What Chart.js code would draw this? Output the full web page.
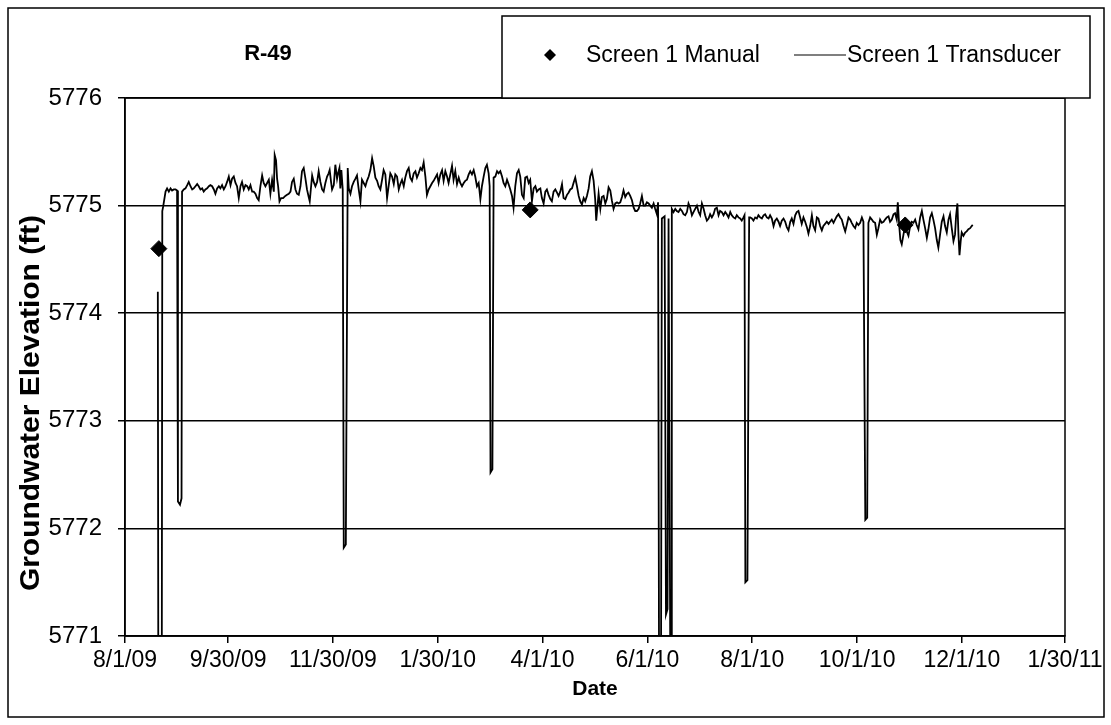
<!DOCTYPE html>
<html><head><meta charset="utf-8">
<script src="https://cdn.jsdelivr.net/npm/chart.js@4/dist/chart.umd.min.js"></script>
<style>html,body{margin:0;padding:0;background:#fff;}#wrap{width:1111px;height:725px;}</style>
</head><body><div id="wrap"><canvas id="c" width="1111" height="725"></canvas></div>
<script>
// x values are days since 8/1/09
const xTickDays = [0, 60, 121, 182, 243, 304, 365, 426, 487, 547];
const xTickLabels = ['8/1/09','9/30/09','11/30/09','1/30/10','4/1/10','6/1/10','8/1/10','10/1/10','12/1/10','1/30/11'];
const yTicks = [5771, 5772, 5773, 5774, 5775, 5776];

const manualDays = [19.7, 235.8, 454.0];
const manualVals = [5774.60, 5774.96, 5774.82];

const transDays = [19.1,19.4,21.4,21.7,22.2,23.6,24.5,25.5,26.5,27.4,28.4,29.4,30.3,30.8,32.0,32.9,33.2,34.2,35.2,36.2,37.1,38.1,39.1,40.0,41.0,42.0,42.9,43.9,44.9,45.8,46.8,47.8,48.8,49.7,50.7,51.7,52.6,53.6,54.6,55.5,56.5,57.5,58.5,59.4,60.4,61.4,62.3,63.3,64.3,65.2,66.2,67.2,68.1,69.1,70.1,71.1,72.0,73.0,74.0,74.9,75.9,76.9,77.8,78.8,79.8,80.7,81.7,82.7,83.7,84.6,85.6,86.6,87.1,87.9,88.5,89.1,89.9,90.8,92.0,93.3,94.3,95.3,96.3,97.2,98.2,99.2,100.1,101.1,102.1,103.0,104.0,105.0,105.9,106.9,107.5,108.3,108.9,109.8,110.8,111.8,112.7,113.7,114.7,115.6,116.6,117.6,118.5,119.1,119.9,120.5,121.5,122.4,123.4,124.0,124.8,125.3,125.9,126.7,127.3,128.5,129.6,130.2,131.2,132.1,133.1,134.1,135.0,136.0,137.0,
137.9,138.9,139.9,140.8,141.8,142.8,143.8,144.7,145.7,146.7,147.6,148.6,149.6,150.5,151.5,152.5,153.4,154.4,155.4,156.4,157.3,158.3,159.3,160.2,161.2,162.2,163.1,164.1,165.1,166.0,167.0,168.0,169.0,169.9,170.9,171.9,172.8,173.8,174.8,175.7,176.7,177.7,178.7,179.6,180.6,181.6,182.5,183.5,184.5,185.4,186.4,187.4,188.3,189.3,190.3,191.2,192.2,193.2,194.2,195.1,196.1,197.1,198.0,199.0,200.0,200.9,201.9,202.9,203.8,204.8,205.8,206.8,207.7,208.7,209.7,210.6,211.6,212.2,212.7,213.8,214.5,215.5,216.5,217.4,218.4,219.4,220.3,221.3,222.3,223.2,224.2,225.2,226.1,227.1,228.1,229.1,230.0,231.0,232.0,232.9,233.9,234.9,235.8,236.8,237.8,238.8,239.7,240.7,241.7,242.6,243.6,244.6,245.5,246.5,247.5,248.4,249.4,250.4,251.4,252.3,253.3,254.3,255.2,256.2,257.2,258.1,259.1,260.1,261.0,262.0,263.0,264.0,264.9,265.9,266.9,267.8,268.8,269.8,270.7,271.7,272.7,273.6,
274.2,275.6,276.6,277.5,278.5,279.5,280.4,281.4,282.4,283.3,284.3,285.3,286.3,287.2,288.2,289.2,290.1,291.1,292.1,293.0,294.0,295.0,296.0,296.9,297.9,298.9,299.8,300.8,301.8,302.7,303.7,304.7,305.6,306.6,307.6,308.5,309.5,310.2,310.8,311.9,312.4,314.0,314.8,315.7,316.3,317.3,318.0,318.2,319.2,320.2,321.1,322.1,323.1,324.1,325.0,326.0,327.0,327.9,328.9,329.9,330.8,331.8,332.8,333.8,334.7,335.7,336.7,337.6,338.6,339.6,340.5,341.5,342.5,343.4,344.4,345.4,346.3,347.3,348.3,349.3,350.2,351.2,352.2,353.1,354.1,355.1,356.0,357.0,358.0,358.9,359.9,360.5,361.0,362.2,363.2,363.8,364.8,365.7,366.7,367.7,368.6,369.6,370.6,371.6,372.5,373.5,374.5,375.4,376.4,377.4,378.3,379.3,380.3,381.2,382.2,383.2,384.2,385.1,386.1,387.1,388.0,389.0,390.0,390.9,391.9,392.9,393.8,394.8,395.8,396.8,397.7,398.7,399.7,400.6,401.6,402.6,403.5,404.5,405.5,406.4,407.4,408.4,409.4,
410.3,411.3,412.3,413.2,414.2,415.2,416.2,417.1,418.1,419.1,420.0,421.0,422.0,422.9,423.9,424.9,425.8,426.8,427.8,428.8,429.7,430.8,431.9,432.6,433.6,434.6,435.5,436.5,437.5,438.4,439.4,440.4,441.4,442.3,443.3,444.3,445.2,446.2,447.2,448.1,449.1,449.7,450.5,451.2,452.0,453.0,453.9,454.9,455.9,456.9,457.8,458.8,459.8,460.7,461.7,462.7,463.7,464.6,465.6,466.6,467.5,468.5,469.5,470.4,471.4,472.4,473.3,474.3,475.3,476.3,477.2,478.2,479.2,480.1,481.1,482.1,483.0,483.6,484.4,485.0,485.6,486.3,486.9,487.9,488.9,489.8,490.8,491.8,492.7,493.3];

const transVals = [5774.20,5770.50,5770.50,5774.95,5774.99,5775.13,5775.16,5775.13,5775.16,5775.14,5775.15,5775.15,5775.14,5772.25,5772.22,5772.28,5775.13,5775.15,5775.16,5775.19,5775.22,5775.18,5775.15,5775.16,5775.18,5775.20,5775.18,5775.15,5775.16,5775.13,5775.15,5775.16,5775.18,5775.19,5775.18,5775.15,5775.11,5775.16,5775.18,5775.16,5775.19,5775.15,5775.18,5775.22,5775.27,5775.19,5775.25,5775.27,5775.21,5775.18,5775.07,5775.18,5775.22,5775.15,5775.19,5775.18,5775.15,5775.19,5775.13,5775.13,5775.11,5775.07,5775.05,5775.18,5775.28,5775.21,5775.18,5775.21,5775.24,5775.11,5775.24,5775.13,5775.47,5775.42,5775.25,5775.18,5775.04,5775.07,5775.07,5775.09,5775.10,5775.11,5775.13,5775.22,5775.25,5775.15,5775.11,5775.10,5775.18,5775.32,5775.35,5775.25,5775.15,5775.08,5775.04,5775.18,5775.28,5775.22,5775.18,5775.22,5775.32,5775.22,5775.15,5775.13,5775.21,5775.27,5775.30,5775.33,5775.22,5775.15,5775.19,5775.38,5775.25,5775.30,5775.35,5775.16,5775.33,5775.15,5771.82,5771.85,5775.35,5775.16,5775.11,5775.18,5775.22,5775.25,5775.28,5775.15,5775.04,
5775.24,5775.21,5775.18,5775.23,5775.27,5775.33,5775.44,5775.37,5775.26,5775.23,5775.18,5775.15,5775.24,5775.33,5775.29,5775.07,5775.18,5775.30,5775.27,5775.20,5775.29,5775.27,5775.15,5775.20,5775.24,5775.18,5775.26,5775.32,5775.35,5775.26,5775.23,5775.30,5775.32,5775.26,5775.30,5775.35,5775.33,5775.40,5775.27,5775.10,5775.15,5775.18,5775.21,5775.23,5775.26,5775.29,5775.21,5775.29,5775.33,5775.23,5775.32,5775.27,5775.21,5775.29,5775.37,5775.24,5775.32,5775.20,5775.26,5775.21,5775.18,5775.21,5775.23,5775.24,5775.29,5775.32,5775.29,5775.33,5775.27,5775.18,5775.21,5775.06,5775.18,5775.27,5775.35,5775.38,5775.30,5775.18,5772.52,5772.55,5775.26,5775.27,5775.32,5775.30,5775.32,5775.27,5775.21,5775.18,5775.24,5775.20,5775.15,5775.09,5774.98,5775.18,5775.30,5775.33,5775.27,5775.10,5775.07,5775.26,5775.27,5775.21,5775.24,5775.04,5775.16,5775.18,5775.13,5775.15,5775.16,5775.07,5775.02,5775.13,5775.15,5775.10,5775.06,5775.04,5775.13,5775.15,5775.12,5775.09,5775.13,5775.20,5775.07,5775.06,5775.10,5775.12,5775.15,5775.16,5775.21,5775.26,5775.18,5775.09,5775.04,5775.01,5775.07,5775.04,5775.09,5775.16,5775.27,5775.32,5775.23,5775.06,
5774.86,5775.11,5774.97,5775.08,5775.09,5775.02,5775.06,5775.17,5775.14,5775.05,5774.97,5775.02,5775.03,5775.02,5775.03,5775.08,5775.14,5775.08,5775.11,5775.12,5775.09,5775.05,5774.98,5774.95,5774.95,5774.97,5775.02,5775.09,5775.00,5775.00,5775.03,5775.02,5775.00,5774.98,5775.02,5774.97,5774.92,5775.03,5770.50,5770.50,5774.88,5774.90,5771.20,5771.25,5774.88,5770.80,5770.80,5774.97,5774.94,5774.97,5774.95,5774.94,5774.97,5774.95,5774.92,5774.91,5774.94,5775.02,5774.98,5774.91,5774.94,5774.97,5775.00,5774.94,5774.91,5775.02,5774.97,5774.91,5774.86,5774.88,5774.92,5774.89,5774.92,5774.97,5774.98,5774.91,5774.95,5774.94,5774.91,5774.94,5774.92,5774.89,5774.94,5774.91,5774.89,5774.88,5774.91,5774.89,5774.88,5774.86,5774.89,5774.91,5771.50,5771.52,5774.89,5774.89,5774.88,5774.86,5774.89,5774.88,5774.91,5774.89,5774.88,5774.91,5774.92,5774.89,5774.88,5774.91,5774.88,5774.81,5774.86,5774.88,5774.85,5774.81,5774.86,5774.88,5774.85,5774.80,5774.77,5774.85,5774.88,5774.83,5774.91,5774.94,5774.95,5774.89,5774.83,5774.89,5774.85,5774.80,5774.74,5774.81,5774.91,5774.81,5774.77,5774.89,5774.88,5774.81,5774.77,5774.81,5774.83,5774.85,5774.83,
5774.85,5774.87,5774.84,5774.87,5774.90,5774.92,5774.89,5774.87,5774.81,5774.76,5774.82,5774.89,5774.87,5774.84,5774.81,5774.79,5774.84,5774.82,5774.84,5774.89,5774.85,5772.08,5772.10,5774.84,5774.89,5774.87,5774.85,5774.84,5774.73,5774.79,5774.87,5774.84,5774.85,5774.87,5774.89,5774.90,5774.85,5774.87,5774.92,5774.93,5774.87,5775.03,5774.82,5774.68,5774.64,5774.73,5774.81,5774.76,5774.72,5774.81,5774.85,5774.84,5774.87,5774.82,5774.78,5774.89,5774.95,5774.87,5774.79,5774.70,5774.78,5774.89,5774.93,5774.87,5774.79,5774.68,5774.61,5774.73,5774.85,5774.90,5774.81,5774.75,5774.87,5774.92,5774.79,5774.67,5774.73,5774.90,5775.02,5774.73,5774.54,5774.67,5774.75,5774.72,5774.75,5774.76,5774.78,5774.79,5774.81,5774.82];

const FONT = '"Liberation Sans", Arial, sans-serif';

const framePlugin = {
  id: 'frame',
  afterDraw(chart) {
    const ctx = chart.ctx, a = chart.chartArea;
    ctx.save();
    ctx.strokeStyle = '#000';
    ctx.lineWidth = 1.5;
    ctx.strokeRect(8, 8, 1096, 709);
    ctx.strokeRect(a.left, a.top, a.right - a.left, a.bottom - a.top);
    ctx.fillStyle = '#000';
    ctx.textBaseline = 'middle';
    // chart title
    ctx.font = 'bold 22px ' + FONT;
    ctx.textAlign = 'center';
    ctx.fillText('R-49', 268, 54);
    // y axis title
    ctx.save();
    ctx.translate(31, 403);
    ctx.rotate(-Math.PI / 2);
    ctx.scale(1.07, 1);
    ctx.font = 'bold 28px ' + FONT;
    ctx.fillText('Groundwater Elevation (ft)', 0, 0);
    ctx.restore();
    // legend box
    ctx.fillStyle = '#fff';
    ctx.fillRect(502, 16, 588, 82);
    ctx.strokeRect(502, 16, 588, 82);
    ctx.fillStyle = '#000';
    ctx.beginPath();
    ctx.moveTo(550, 49); ctx.lineTo(556, 55); ctx.lineTo(550, 61); ctx.lineTo(544, 55); ctx.closePath();
    ctx.fill();
    ctx.font = '23px ' + FONT;
    ctx.textAlign = 'left';
    ctx.fillText('Screen 1 Manual', 586, 56);
    ctx.beginPath(); ctx.moveTo(794, 55); ctx.lineTo(846, 55); ctx.lineWidth = 1.2; ctx.stroke();
    ctx.fillText('Screen 1 Transducer', 847, 56);
    ctx.restore();
  }
};

new Chart(document.getElementById('c'), {
  type: 'line',
  data: {
    datasets: [
      {
        label: 'Screen 1 Manual',
        data: manualDays.map((d, i) => ({x: d, y: manualVals[i]})),
        showLine: false,
        pointStyle: 'rectRot',
        pointRadius: 8,
        pointBackgroundColor: '#000',
        pointBorderColor: '#000',
        borderColor: '#000',
        order: 0
      },
      {
        label: 'Screen 1 Transducer',
        data: transDays.map((d, i) => ({x: d, y: transVals[i]})),
        borderColor: '#000',
        borderWidth: 1.8,
        pointRadius: 0,
        tension: 0,
        fill: false,
        order: 1
      }
    ]
  },
  options: {
    responsive: false,
    animation: false,
    devicePixelRatio: 1,
    layout: { padding: { top: 98, left: 0, right: 46, bottom: 0 } },
    plugins: { legend: { display: false }, tooltip: { enabled: false } },
    scales: {
      x: {
        type: 'linear', min: 0, max: 547,
        afterBuildTicks: (s) => { s.ticks = xTickDays.map(v => ({ value: v })); },
        afterFit: (s) => { s.height = 89; },
        ticks: {
          autoSkip: false, maxRotation: 0, color: '#000', padding: 4,
          font: { family: FONT, size: 23 },
          callback: (v) => { const i = xTickDays.indexOf(v); return i >= 0 ? xTickLabels[i] : ''; }
        },
        grid: { drawOnChartArea: false, drawTicks: true, tickLength: 7, color: '#000', lineWidth: 1.5 },
        border: { color: '#000', width: 1.5 },
        title: { display: true, text: 'Date', color: '#000', font: { family: FONT, size: 21, weight: 'bold' }, padding: { top: 0, bottom: 23 } }
      },
      y: {
        type: 'linear', min: 5771, max: 5776,
        afterBuildTicks: (s) => { s.ticks = yTicks.map(v => ({ value: v })); },
        afterFit: (s) => { s.width = 125; },
        ticks: { color: '#000', padding: 16, font: { family: FONT, size: 24 }, callback: (v) => String(v) },
        grid: { color: '#000', lineWidth: 1.5, drawTicks: true, tickLength: 7 },
        border: { color: '#000', width: 1.5 },
        title: { display: false }
      }
    }
  },
  plugins: [framePlugin]
});
</script></body></html>
